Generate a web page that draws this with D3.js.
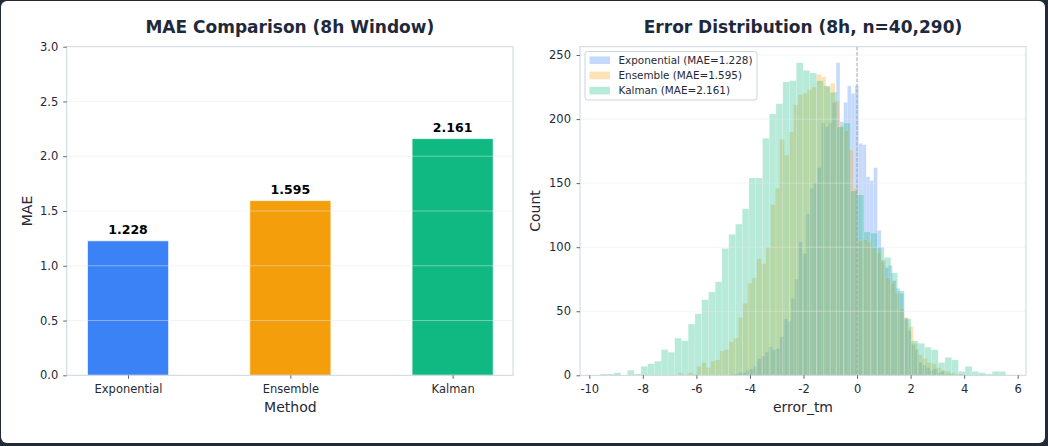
<!DOCTYPE html>
<html>
<head>
  <meta charset="utf-8">
  <title>MAE Comparison</title>
  <script src="https://d3js.org/d3.v7.min.js"></script>
  <style>
    body { margin: 0; background: #222a35; }
    svg { display: block; font-family: "DejaVu Sans", sans-serif; }
  </style>
</head>
<body>
  <div id="chart"></div>
  <script>
    // --- data ---
    var methods = ["Exponential", "Ensemble", "Kalman"];
    var maeValues = [1.228, 1.595, 2.161];
    var methodColors = ["#3b82f6", "#f59e0b", "#10b981"];
    var maeTicks = [0, 0.5, 1.0, 1.5, 2.0, 2.5, 3.0];

    var errTicks = [-10, -8, -6, -4, -2, 0, 2, 4, 6];
    var countTicks = [0, 50, 100, 150, 200, 250];

    // histogram bins: first edge, bin width, counts
    var expStart = -4.70, expWidth = 0.14;
    var expCounts = [1, 1, 2, 2, 4, 5, 7, 13, 15, 18, 22, 20, 21, 30, 44, 42, 60, 75, 104, 95,
      126, 146, 150, 162, 197, 194, 197, 213, 244, 198, 213, 226, 220, 226, 181, 180, 155, 152, 162, 113,
      89, 84, 86, 74, 68, 64, 45, 35, 24, 20, 10, 8, 6, 4, 5, 2, 3, 1, 1, 0];

    var ensStart = -6.67, ensWidth = 0.172;
    var ensCounts = [2, 0, 2, 1, 7, 10, 6, 11, 12, 19, 20, 26, 29, 45, 56, 72, 76, 91, 87, 100,
      133, 146, 184, 172, 190, 211, 219, 220, 223, 225, 235, 233, 225, 228, 214, 195, 191, 176, 146, 105,
      106, 104, 100, 96, 90, 76, 72, 64, 52, 45, 38, 25, 16, 13, 10, 9, 6, 4, 3, 2, 1, 1];

    var kalStart = -9.585, kalWidth = 0.2523;
    var kalCounts = [1, 1, 2, 0, 4, 1, 7, 9, 11, 20, 18, 29, 27, 40, 48, 59, 65, 73, 99, 110,
      118, 130, 154, 154, 185, 204, 212, 229, 230, 244, 238, 236, 230, 226, 221, 194, 197, 144, 141, 112,
      111, 100, 92, 80, 66, 44, 27, 25, 22, 20, 10, 14, 12, 3, 7, 3, 2, 1, 3, 3];

    var W = 1048, H = 446;
    var textCol = "#1f2937", spineCol = "#cbd5e1", gridCol = "#e5e7eb";

    var svg = d3.select("#chart").append("svg")
      .attr("width", W).attr("height", H);

    svg.append("rect").attr("x", 0).attr("y", 0).attr("width", W).attr("height", H).attr("fill", "#222a35");
    svg.append("rect").attr("x", 1).attr("y", 1).attr("width", W - 4).attr("height", H - 4)
      .attr("rx", 6).attr("fill", "#ffffff");

    var plotTop = 46.7, plotBottom = 375.3;

    function styleAxis(g) {
      g.select(".domain").remove();
      g.selectAll(".tick line").attr("stroke", "#334155").attr("stroke-width", 0.8);
      g.selectAll(".tick text").attr("fill", textCol).style("font-size", "11.5px")
        .style("font-family", "DejaVu Sans");
    }

    function grid(x0, x1, y, ticks) {
      svg.append("g").selectAll("line").data(ticks).enter().append("line")
        .attr("x1", x0).attr("x2", x1)
        .attr("y1", function(d) { return y(d); }).attr("y2", function(d) { return y(d); })
        .attr("stroke", gridCol).attr("stroke-opacity", 0.6).attr("stroke-width", 0.8);
    }

    // ================= left: MAE bars =================
    var lx0 = 66.7, lx1 = 513;
    var x = d3.scaleLinear().domain([-0.378, 2.372]).range([lx0, lx1]);
    var y = d3.scaleLinear().domain([0, 3]).range([plotBottom, plotTop]);

    svg.append("g").selectAll("rect").data(maeValues).enter().append("rect")
      .attr("x", function(d, i) { return x(i - 0.25); })
      .attr("width", x(0.25) - x(-0.25))
      .attr("y", function(d) { return y(d); })
      .attr("height", function(d) { return y(0) - y(d); })
      .attr("fill", function(d, i) { return methodColors[i]; })
      .attr("stroke", "#ffffff").attr("stroke-opacity", 0.7).attr("stroke-width", 1);

    grid(lx0, lx1, y, maeTicks.slice(1, -1));

    svg.append("g").selectAll("text").data(maeValues).enter().append("text")
      .attr("x", function(d, i) { return x(i); })
      .attr("y", function(d) { return y(d) - 6.5; })
      .attr("text-anchor", "middle")
      .style("font-size", "12.5px").style("font-weight", "bold").attr("fill", "#000")
      .text(function(d) { return d.toFixed(3); });

    svg.append("rect").attr("x", lx0).attr("y", plotTop).attr("width", lx1 - lx0).attr("height", plotBottom - plotTop)
      .attr("fill", "none").attr("stroke", spineCol).attr("stroke-width", 1);

    svg.append("g").attr("transform", "translate(" + lx0 + ",0)")
      .call(d3.axisLeft(y).tickValues(maeTicks).tickFormat(d3.format(".1f"))
        .tickSizeInner(3.5).tickSizeOuter(0).tickPadding(5))
      .call(styleAxis);

    svg.append("g").attr("transform", "translate(0," + plotBottom + ")")
      .call(d3.axisBottom(x).tickValues([0, 1, 2]).tickFormat(function(d) { return methods[d]; })
        .tickSizeInner(3.5).tickSizeOuter(0).tickPadding(6.5))
      .call(styleAxis);

    svg.append("text").attr("x", (lx0 + lx1) / 2).attr("y", 33)
      .attr("text-anchor", "middle").style("font-size", "17px").style("font-weight", "bold")
      .attr("fill", "#1e293b").text("MAE Comparison (8h Window)");
    svg.append("text").attr("x", (lx0 + lx1) / 2 + 0.5).attr("y", 412)
      .attr("text-anchor", "middle").style("font-size", "14px").attr("fill", textCol).text("Method");
    svg.append("text").attr("transform", "translate(32," + ((plotTop + plotBottom) / 2) + ") rotate(-90)")
      .attr("text-anchor", "middle").style("font-size", "14px").attr("fill", textCol).text("MAE");

    // ================= right: error histogram =================
    var rx0 = 580, rx1 = 1026;
    var xe = d3.scaleLinear().domain([-10.347, 6.31]).range([rx0, rx1]);
    var yc = d3.scaleLinear().domain([0, 256.5]).range([plotBottom, plotTop]);

    var series = [
      {name: "Exponential", mae: maeValues[0], start: expStart, width: expWidth, counts: expCounts, color: methodColors[0]},
      {name: "Ensemble", mae: maeValues[1], start: ensStart, width: ensWidth, counts: ensCounts, color: methodColors[1]},
      {name: "Kalman", mae: maeValues[2], start: kalStart, width: kalWidth, counts: kalCounts, color: methodColors[2]}
    ];

    series.forEach(function(s) {
      svg.append("g").selectAll("rect").data(s.counts).enter().append("rect")
        .attr("x", function(d, i) { return xe(s.start + i * s.width); })
        .attr("width", function(d, i) { return xe(s.start + (i + 1) * s.width) - xe(s.start + i * s.width); })
        .attr("y", function(d) { return yc(d); })
        .attr("height", function(d) { return yc(0) - yc(d); })
        .attr("fill", s.color).attr("fill-opacity", 0.3)
        .attr("stroke", "#ffffff").attr("stroke-opacity", 0.35).attr("stroke-width", 0.5);
    });

    grid(rx0, rx1, yc, countTicks.slice(1));

    svg.append("line").attr("x1", xe(0)).attr("x2", xe(0)).attr("y1", plotTop).attr("y2", plotBottom)
      .attr("stroke", "#94a3b8").attr("stroke-width", 1).attr("stroke-dasharray", "3.7,1.6");

    svg.append("rect").attr("x", rx0).attr("y", plotTop).attr("width", rx1 - rx0).attr("height", plotBottom - plotTop)
      .attr("fill", "none").attr("stroke", spineCol).attr("stroke-width", 1);

    svg.append("g").attr("transform", "translate(" + rx0 + ",0)")
      .call(d3.axisLeft(yc).tickValues(countTicks).tickFormat(d3.format("d"))
        .tickSizeInner(3.5).tickSizeOuter(0).tickPadding(5.5))
      .call(styleAxis);

    svg.append("g").attr("transform", "translate(0," + plotBottom + ")")
      .call(d3.axisBottom(xe).tickValues(errTicks).tickFormat(function(d) { return d < 0 ? "-" + (-d) : d; })
        .tickSizeInner(3.5).tickSizeOuter(0).tickPadding(6.5))
      .call(styleAxis);

    svg.append("text").attr("x", (rx0 + rx1) / 2).attr("y", 33)
      .attr("text-anchor", "middle").style("font-size", "17px").style("font-weight", "bold")
      .attr("fill", "#1e293b").text("Error Distribution (8h, n=40,290)");
    svg.append("text").attr("x", (rx0 + rx1) / 2).attr("y", 412)
      .attr("text-anchor", "middle").style("font-size", "14px").attr("fill", textCol).text("error_tm");
    svg.append("text").attr("transform", "translate(540," + ((plotTop + plotBottom) / 2) + ") rotate(-90)")
      .attr("text-anchor", "middle").style("font-size", "14px").attr("fill", textCol).text("Count");

    // legend
    var leg = svg.append("g").attr("transform", "translate(585,51.5)");
    leg.append("rect").attr("width", 172).attr("height", 48.5).attr("rx", 2.5)
      .attr("fill", "#ffffff").attr("fill-opacity", 0.8).attr("stroke", spineCol).attr("stroke-width", 1);
    series.forEach(function(s, i) {
      var cy = 8.7 + i * 15.2;
      leg.append("rect").attr("x", 4.5).attr("y", cy - 3.8).attr("width", 20.5).attr("height", 7.6)
        .attr("fill", s.color).attr("fill-opacity", 0.3);
      leg.append("text").attr("x", 33.5).attr("y", cy + 3.8)
        .style("font-size", "10.4px").attr("fill", textCol)
        .text(s.name + " (MAE=" + s.mae.toFixed(3) + ")");
    });
  </script>
</body>
</html>
